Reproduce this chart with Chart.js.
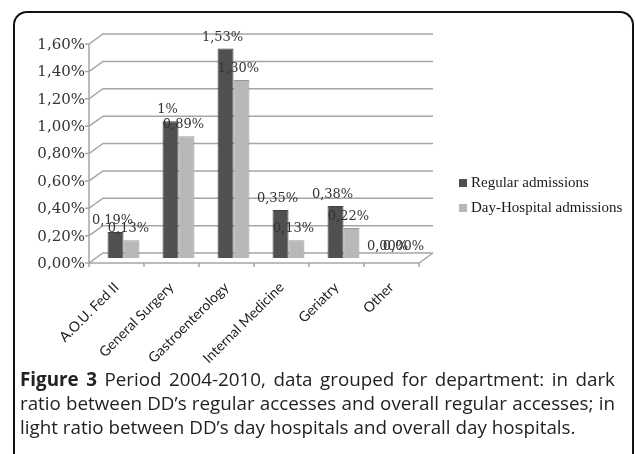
<!DOCTYPE html>
<html lang="en">
<head>
<meta charset="UTF-8">
<title>Figure 3</title>
<script src="https://cdn.jsdelivr.net/npm/chart.js"></script>
<style>
  body { margin: 0; width: 636px; height: 454px; background: #fff; position: relative; overflow: hidden; }
  .frame { position: absolute; left: 13px; top: 11px; width: 617px; height: 470px;
           border: 2px solid #111; border-bottom: none; border-radius: 14px 14px 0 0; }
  #chartBox { position: absolute; left: 0; top: 0; width: 636px; height: 454px; }
  .legend { position: absolute; left: 459px; top: 172px; font: 15px "Liberation Serif", serif; color: #1a1a1a; }
  .legend div { height: 25px; line-height: 20px; }
  .legend span { display: inline-block; width: 8px; height: 8px; margin-right: 4px; }
  .caption { position: absolute; left: 20px; top: 367px; width: 595px;
             font: 18.8px "Open Sans", sans-serif; color: #222; line-height: 24px; white-space: nowrap; }
  .caption .j { text-align: justify; text-align-last: justify; }
</style>
</head>
<body>
  <div class="frame"></div>
  <div id="chartBox"><canvas id="admChart"></canvas></div>
  <div class="legend" id="legend"></div>
  <div class="caption">
    <div class="j"><b>Figure 3</b> Period 2004-2010, data grouped for department: in dark</div>
    <div class="j">ratio between DD’s regular accesses and overall regular accesses; in</div>
    <div>light ratio between DD’s day hospitals and overall day hospitals.</div>
  </div>

<script>
  // percentages
  const departments = ['A.O.U. Fed II', 'General Surgery', 'Gastroenterology', 'Internal Medicine', 'Geriatry', 'Other'];
  const regularAdm = [0.19, 1.00, 1.53, 0.35, 0.38, 0.00];
  const dayHospitalAdm = [0.13, 0.89, 1.30, 0.13, 0.22, 0.00];
  const yTicks = [0, 0.2, 0.4, 0.6, 0.8, 1.0, 1.2, 1.4, 1.6];

  const dx = 7, dy = 5; // fake 3d depth

  function fmtPct(v, fixed) {
    if (!fixed && v !== 0 && Number.isInteger(v)) return v + '%';
    return v.toFixed(2).replace('.', ',') + '%';
  }

  // back walls + floor, like the old excel 3d look
  const wallsPlugin = {
    id: 'walls',
    beforeDatasetsDraw(chart) {
      const { ctx, chartArea: a, scales: { x, y } } = chart;
      ctx.save();
      ctx.strokeStyle = '#a6a6a6';
      ctx.lineWidth = 1.5;
      y.ticks.forEach(t => {
        const py = y.getPixelForValue(t.value);
        ctx.beginPath();
        ctx.moveTo(a.left - dx - 4, py + dy);
        ctx.lineTo(a.left - dx, py + dy);
        ctx.lineTo(a.left + dx, py - dy);
        ctx.lineTo(a.right + dx, py - dy);
        ctx.stroke();
      });
      const top = y.getPixelForValue(y.max), base = y.getPixelForValue(0);
      ctx.beginPath();
      ctx.moveTo(a.left - dx, top + dy);
      ctx.lineTo(a.left - dx, base + dy);
      ctx.lineTo(a.right - dx, base + dy);
      ctx.lineTo(a.right + dx, base - dy);
      ctx.stroke();
      for (let i = 0; i <= departments.length; i++) {
        const px = x.getPixelForValue(i - 0.5) - dx;
        ctx.beginPath();
        ctx.moveTo(px, base + dy);
        ctx.lineTo(px, base + dy + 4);
        ctx.stroke();
      }
      ctx.restore();
    }
  };

  const valueLabels = {
    id: 'valueLabels',
    afterDatasetsDraw(chart) {
      const ctx = chart.ctx;
      ctx.save();
      ctx.font = '13px "DejaVu Serif", serif';
      ctx.fillStyle = '#333';
      ctx.textAlign = 'center';
      ctx.textBaseline = 'alphabetic';
      chart.data.datasets.forEach((ds, di) => {
        chart.getDatasetMeta(di).data.forEach((bar, i) => {
          ctx.fillText(fmtPct(ds.data[i]), bar.x - 3, bar.y - 8);
        });
      });
      ctx.restore();
    }
  };

  const chart = new Chart(document.getElementById('admChart'), {
    type: 'bar',
    data: {
      labels: departments,
      datasets: [
        { label: 'Regular admissions', data: regularAdm, backgroundColor: '#505050', borderColor: '#404040', borderWidth: 1 },
        { label: 'Day-Hospital admissions', data: dayHospitalAdm, backgroundColor: '#b8b8b8', borderColor: '#999999', borderWidth: 1 }
      ]
    },
    options: {
      responsive: true,
      maintainAspectRatio: false,
      animation: false,
      layout: { padding: { top: 39, right: 210, left: 0, bottom: 0 } },
      datasets: { bar: { categoryPercentage: 0.58, barPercentage: 1 } },
      plugins: { legend: { display: false }, tooltip: { enabled: false } },
      scales: {
        x: {
          grid: { display: false },
          border: { display: false },
          ticks: {
            font: { family: 'Lato', size: 14 },
            color: '#1a1a1a',
            minRotation: 45,
            maxRotation: 45,
            padding: 13,
            labelOffset: -dx
          },
          afterFit: s => { s.height = 196; }
        },
        y: {
          min: 0,
          max: 1.6,
          grid: { display: false, drawTicks: false },
          border: { display: false },
          afterBuildTicks: s => { s.ticks = yTicks.map(v => ({ value: v })); },
          ticks: {
            font: { family: 'DejaVu Serif', size: 15 },
            color: '#333',
            padding: 11,
            labelOffset: 6,
            callback: v => fmtPct(v, true)
          },
          afterFit: s => { s.width = 96; }
        }
      }
    },
    plugins: [wallsPlugin, valueLabels]
  });

  document.getElementById('legend').innerHTML = chart.data.datasets
    .map(ds => `<div><span style="background:${ds.backgroundColor}"></span>${ds.label}</div>`)
    .join('');
</script>
</body>
</html>
